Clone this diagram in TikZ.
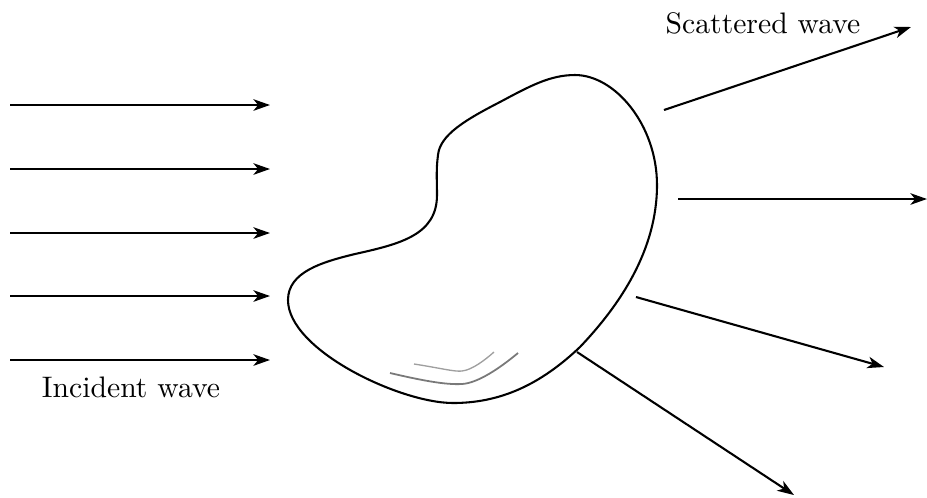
\documentclass[tikz,border=0pt]{standalone}
\usetikzlibrary{arrows.meta}
\begin{document}
\begin{tikzpicture}[x=0.337pt,y=-0.337pt,
  wave/.style={line width=0.7pt,-{Stealth[length=5.6pt,width=3.9pt,inset=1.6pt]}},
  lbl/.style={inner sep=0pt,font=\normalsize}]
\useasboundingbox (0,0) rectangle (927,497);
% blob
\draw[line width=0.7pt] (575,75)
  .. controls (615,75) and (657,125) .. (657,185)
  .. controls (657,250) and (620,305) .. (580,347)
  .. controls (540,385) and (500,403) .. (453,403)
  .. controls (400,403) and (288,350) .. (288,300)
  .. controls (288,272) and (322,262) .. (355,254)
  .. controls (400,244) and (437,235) .. (437,195)
  .. controls (437,180) and (436,170) .. (438,155)
  .. controls (440,135) and (465,120) .. (500,102)
  .. controls (530,86) and (550,75) .. cycle;
\draw[gray!75,line width=0.45pt] (414,364) .. controls (440,368) and (455,372) .. (462,371) .. controls (472,370) and (485,360) .. (494,352);
\draw[gray!95!black,line width=0.6pt] (390,373) .. controls (420,380) and (445,385) .. (462,384) .. controls (478,383) and (500,368) .. (518,353);
% incident
\foreach \i/\y in {1/105,2/169,3/233,4/296,5/360}{
  \coordinate (a\i) at (10,\y);
  \coordinate (b\i) at (270,\y);
  \draw[wave] (a\i) -- (b\i);
}
\node[lbl] (inc) at (131,387) {Incident wave};
% scattered
\coordinate (s1) at (664,110); \coordinate (t1) at (911,27);
\coordinate (s2) at (678,199); \coordinate (t2) at (927,199);
\coordinate (s3) at (636,297); \coordinate (t3) at (884,367);
\coordinate (s4) at (577,352); \coordinate (t4) at (794,495);
\foreach \i in {1,2,3,4}{\draw[wave] (s\i) -- (t\i);}
\node[lbl] (sca) at (763,23) {Scattered wave};
\end{tikzpicture}
\end{document}
